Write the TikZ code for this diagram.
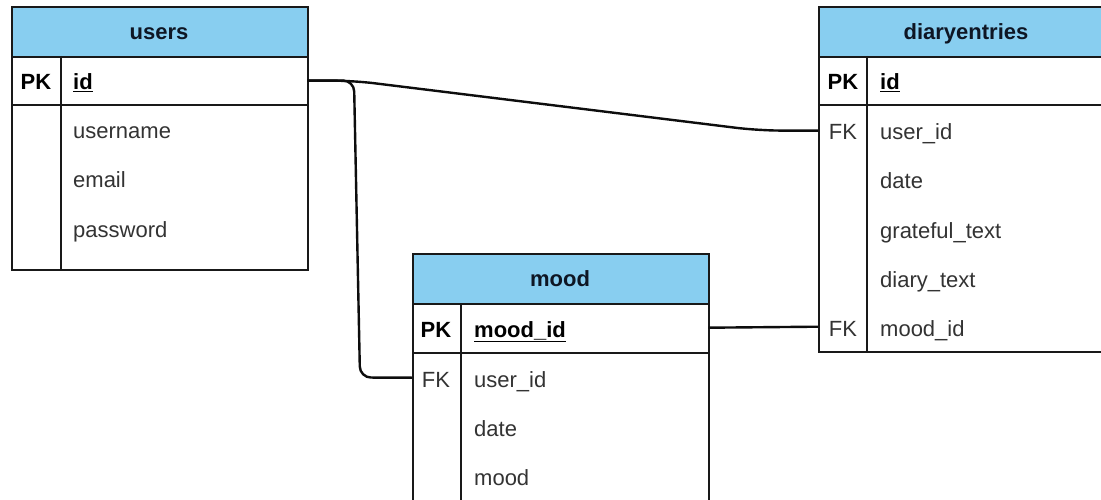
\documentclass[tikz,border=0pt]{standalone}
\usepackage{fontspec}
\setmainfont{Liberation Sans}
\definecolor{hdrblue}{RGB}{136,206,240}
\definecolor{fldgray}{RGB}{51,51,51}
\definecolor{hdrtext}{RGB}{14,22,36}
\begin{document}
\begin{tikzpicture}[x=1pt,y=-1pt,
 hdr/.style={draw=black!90,line width=2pt,fill=hdrblue,minimum width=296pt,minimum height=50pt,anchor=north west,inner sep=0pt},
 title/.style={anchor=base,inner sep=0pt,text=hdrtext,font=\bfseries\fontsize{22}{26}\selectfont},
 tbody/.style={draw=black!90,line width=2pt,fill=white,minimum width=296pt,anchor=north west,inner sep=0pt},
 sep/.style={line width=1.6pt,draw=black!90},
 row/.style={minimum width=296pt,minimum height=49pt,anchor=north west,inner sep=0pt},
 fld/.style={anchor=base west,inner sep=0pt,text=fldgray,font=\fontsize{22}{26}\selectfont},
 fldkey/.style={anchor=base west,inner sep=0pt,text=black,font=\bfseries\fontsize{22}{26}\selectfont},
 pkey/.style={anchor=base,inner sep=0pt,text=black,font=\bfseries\fontsize{22}{26}\selectfont},
 fkey/.style={anchor=base,inner sep=0pt,text=fldgray,font=\fontsize{22}{26}\selectfont},
 conn/.style={line width=2.4pt,draw=black!95}
]
\clip (0,0) rectangle (1101,500);
\fill[white] (0,0) rectangle (1101,500);

% ---------- users ----------
\node[tbody,minimum height=213pt] (usersbody) at (11,56) {};
\node[hdr] (users) at (11,6) {};
\node[title] (users-title) at (159,39.5) {users};
\draw[sep] (11,105) -- (307,105);
\draw[sep] (61,56) -- (61,269);
\node[row] (r-users-id) at (11,56) {};
\node[pkey] (users-pk) at (36,90) {PK};
\node[fldkey] (users-id) at (73,90) {\underline{id}};
\node[fld] (users-username) at (73,139) {username};
\node[fld] (users-email) at (73,188) {email};
\node[fld] (users-password) at (73,237) {password};

% ---------- diaryentries ----------
\node[tbody,minimum height=295pt,minimum width=300pt] (diarybody) at (818,56) {};
\node[hdr,minimum width=300pt] (diary) at (818,6) {};
\node[title] (diary-title) at (966,39.5) {diaryentries};
\draw[sep] (818,105) -- (1120,105);
\draw[sep] (867,56) -- (867,351);
\node[row] (r-diary-uid) at (818,106) {};
\node[row] (r-diary-mid) at (818,302) {};
\node[pkey] (diary-pk) at (843,90) {PK};
\node[fldkey] (diary-id) at (880,90) {\underline{id}};
\node[fkey] (diary-fk1) at (843,140) {FK};
\node[fld] (diary-userid) at (880,140) {user\_id};
\node[fld] (diary-date) at (880,189) {date};
\node[fld] (diary-grateful) at (880,238) {grateful\_text};
\node[fld] (diary-text) at (880,287) {diary\_text};
\node[fkey] (diary-fk2) at (843,336) {FK};
\node[fld] (diary-moodid) at (880,336) {mood\_id};

% ---------- mood ----------
\node[tbody,minimum height=220pt] (moodbody) at (412,303) {};
\node[hdr] (mood) at (412,253) {};
\node[title] (mood-title) at (560,286.5) {mood};
\draw[sep] (412,353) -- (708,353);
\draw[sep] (461,303) -- (461,520);
\node[row] (r-mood-mid) at (412,303) {};
\node[row] (r-mood-uid) at (412,353) {};
\node[pkey] (mood-pk) at (436,337) {PK};
\node[fldkey] (mood-moodid) at (474,337) {\underline{mood\_id}};
\node[fkey] (mood-fk) at (436,387) {FK};
\node[fld] (mood-userid) at (474,387) {user\_id};
\node[fld] (mood-date) at (474,436) {date};
\node[fld] (mood-mood) at (474,485) {mood};

% ---------- connectors ----------
\draw[conn,rounded corners=22pt] (r-users-id.east) -- (352,80.5) -- (758,130.5) -- (r-diary-uid.west);
\draw[conn,rounded corners=11pt] (r-users-id.east) -- (354,80.5) -- (360,377.5) -- (r-mood-uid.west);
\draw[conn] (r-mood-mid.east) -- (r-diary-mid.west);
\end{tikzpicture}
\end{document}
